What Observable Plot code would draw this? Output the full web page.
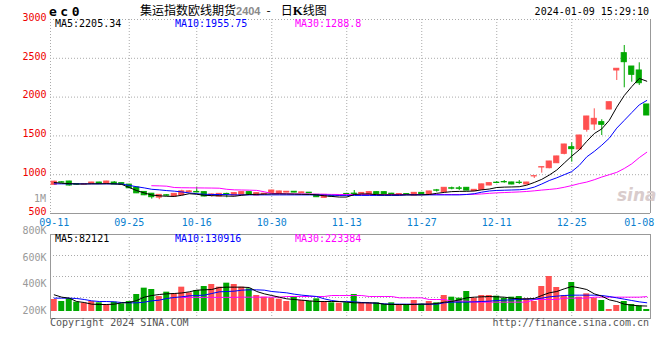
<!DOCTYPE html>
<html><head><meta charset="utf-8">
<script src="https://cdn.jsdelivr.net/npm/d3@7"></script>
<script src="https://cdn.jsdelivr.net/npm/@observablehq/plot@0.6"></script>
<style>
html,body{margin:0;padding:0;background:#fff;overflow:hidden}
#wrap{position:relative;width:660px;height:360px;overflow:hidden;background:#fff;font-family:"DejaVu Sans Mono",monospace;font-size:10px;}
#wrap svg{position:absolute;left:0;top:0;}
.t{position:absolute;line-height:1;white-space:nowrap}
</style></head><body><div id="wrap"></div>
<script>
// ---------- data ----------
const tickIdx = [0, 10, 19, 29, 39, 49, 59, 69, 78];
const tickLabels = ["09-11", "09-25", "10-16", "10-30", "11-13", "11-27", "12-11", "12-25", "01-08"];
const priceTicks = [3000, 2500, 2000, 1500, 1000, 500];
const volTickValues = [800000, 600000, 400000, 200000];
const volTickLabels = ["800K", "600K", "400K", "200K"];

const open = [870,902,912,878,873,882,899,882,899,891,
 872,835,778,755,705,735,719,735,775,778,
 775,735,719,752,732,740,775,732,745,766,
 753,770,780,765,768,740,702,722,725,752,
 756,755,740,775,775,755,745,750,732,766,
 740,798,775,825,824,831,788,805,861,897,
 906,900,897,874,978,1093,1084,1148,1269,1354,
 1325,1579,1647,1677,1840,2343,2566,2394,2343,1905];
const close = [910,898,861,872,877,899,882,912,874,874,
 825,760,735,710,740,730,753,785,785,772,
 719,745,753,748,762,775,745,762,755,796,
 784,780,770,772,760,710,740,718,732,748,
 750,765,775,740,745,750,750,745,766,740,
 784,794,831,820,818,796,805,875,891,893,
 902,874,893,899,981,1097,1170,1235,1389,1329,
 1505,1750,1720,1643,1934,2365,2450,2287,2179,1763];
const high = [915,912,915,880,880,902,902,915,912,893,
 875,838,782,758,742,745,756,800,795,840,
 778,753,756,762,765,778,778,765,758,799,
 787,783,783,775,770,743,742,725,735,760,
 796,768,778,778,778,760,753,753,769,769,
 787,810,834,840,848,834,808,878,894,910,
 925,903,925,902,981,1097,1172,1238,1392,1411,
 1508,1752,1849,1708,1936,2365,2665,2394,2442,1905];
const low = [865,891,853,865,870,879,879,879,871,871,
 822,757,730,685,678,720,715,730,765,765,
 715,710,716,702,729,737,742,729,742,763,
 750,767,767,762,757,707,699,715,722,745,
 748,752,737,737,742,745,742,742,729,737,
 737,775,772,805,796,793,785,800,858,885,
 890,870,874,870,951,1020,1076,1145,1256,1161,
 1312,1548,1570,1505,1838,2214,2120,2192,2150,1763];
const volume = [180000,150000,190000,140000,125000,150000,130000,100000,140000,115000,
 150000,255000,350000,330000,225000,290000,265000,365000,280000,315000,
 375000,405000,365000,425000,405000,365000,340000,240000,215000,200000,
 185000,150000,215000,165000,150000,190000,150000,130000,125000,130000,
 255000,130000,125000,130000,105000,130000,105000,105000,165000,110000,
 150000,130000,240000,215000,200000,300000,200000,240000,240000,230000,
 200000,215000,225000,190000,150000,375000,525000,360000,240000,435000,
 215000,265000,200000,165000,30000,90000,150000,105000,85000,30000];

const ma5 = [900,890,885,880,880,882,882,884,882,875,
 835,795,765,738,728,722,720,735,755,748,
 735,730,728,725,722,735,745,747,750,752,
 753,752,750,748,746,740,728,720,712,712,
 745,752,752,742,740,740,740,740,740,740,
 745,760,772,782,785,786,790,805,815,835,
 840,842,845,865,900,940,995,1060,1150,1240,
 1320,1430,1530,1590,1700,1870,2020,2135,2240,2205];
const ma10 = [882,882,882,882,882,882,882,882,882,880,
 862,845,830,812,805,795,788,778,765,755,
 748,745,745,744,740,740,740,740,740,740,
 740,740,740,740,740,740,738,735,733,733,
 733,733,733,733,733,733,733,740,740,740,
 740,740,740,740,740,745,755,775,790,797,
 800,803,806,815,840,880,925,960,1000,1040,
 1120,1230,1300,1380,1470,1600,1700,1800,1900,1956];
const ma30 = [null,null,null,null,null,null,null,null,null,null,
 null,null,null,858,856,852,835,832,831,830,
 829,828,826,812,805,803,801,798,780,758,
 755,754,753,752,751,750,748,746,745,745,
 745,745,745,745,745,745,745,745,745,745,
 745,745,745,745,745,746,748,752,760,766,
 770,774,778,784,792,802,810,820,838,860,
 885,905,935,970,1000,1030,1080,1140,1220,1289];
const vma5 = [250000,215000,200000,150000,135000,110000,105000,105000,110000,130000,
 135000,165000,215000,240000,255000,265000,270000,278000,295000,320000,
 325000,330000,360000,365000,365000,365000,360000,300000,265000,240000,
 215000,190000,180000,170000,160000,150000,150000,150000,150000,140000,
 130000,130000,130000,125000,110000,105000,105000,105000,105000,110000,
 110000,120000,140000,150000,175000,205000,215000,220000,225000,220000,
 215000,200000,190000,190000,195000,240000,280000,300000,340000,375000,
 355000,330000,265000,230000,175000,150000,110000,95000,85000,82000];
const vma10 = [200000,200000,200000,195000,180000,160000,150000,150000,145000,135000,
 130000,130000,140000,160000,170000,195000,210000,220000,235000,240000,
 245000,270000,295000,300000,305000,320000,325000,325000,320000,300000,
 290000,280000,260000,245000,235000,225000,190000,165000,150000,148000,
 145000,135000,130000,125000,115000,110000,110000,110000,110000,110000,
 110000,110000,130000,140000,140000,140000,145000,150000,155000,165000,
 170000,175000,180000,185000,185000,200000,220000,230000,240000,245000,
 245000,245000,245000,240000,225000,205000,185000,165000,145000,131000];
const vma30 = [null,null,null,null,null,null,null,null,null,null,
 null,null,null,null,null,null,null,210000,212000,212000,
 212000,212000,212000,212000,212000,215000,215000,215000,215000,215000,
 215000,225000,225000,225000,225000,225000,225000,240000,240000,240000,
 240000,240000,225000,225000,225000,225000,205000,205000,205000,205000,
 180000,180000,180000,155000,155000,155000,140000,140000,140000,140000,
 140000,140000,140000,140000,180000,180000,180000,180000,200000,200000,
 200000,200000,215000,215000,215000,215000,215000,215000,215000,223000];

// ---------- styling ----------
const RED = "#ff5050", GREEN = "#00a800";
const FONT = '"DejaVu Sans Mono", monospace';
const xDomain = [-0.5, 79.5];
const dotted = {stroke: "#aaa", strokeDasharray: "1,2", strokeWidth: 1};
const baseStyle = {background: "transparent", fontFamily: FONT, fontSize: "10px"};

const candles = open.map((o, i) => ({
  i, o, c: close[i], h: high[i], l: low[i],
  col: close[i] > o ? RED : GREEN
}));
const vols = volume.map((v, i) => ({i, v, col: candles[i].col}));
const series = arr => arr.map((v, i) => ({i, v})).filter(d => d.v != null);

const wrap = document.getElementById("wrap");

// ---------- price panel ----------
const price = Plot.plot({
  width: 660, height: 360,
  marginLeft: 50, marginRight: 10, marginTop: 19, marginBottom: 147,
  x: {domain: xDomain, axis: null, label: null},
  y: {domain: [500, 3000], axis: null, label: null},
  color: {type: "identity"},
  style: baseStyle,
  marks: [
    Plot.ruleY(priceTicks.slice(0, -1), dotted),
    Plot.ruleX(tickIdx.slice(1, -1), dotted),
    Plot.ruleX([xDomain[0]], dotted),
    Plot.ruleX([xDomain[1]], {stroke: "#999"}),
    Plot.ruleY([priceTicks[priceTicks.length - 1]], {stroke: "#999"}),
    Plot.ruleX(candles, {x: "i", y1: "l", y2: "h", stroke: "col", strokeWidth: 1}),
    Plot.rect(candles, {
      x1: d => d.i - 0.34, x2: d => d.i + 0.34,
      y1: d => Math.min(d.o, d.c), y2: d => Math.max(d.o, d.c),
      fill: "col", stroke: "col", strokeWidth: 1
    }),
    Plot.line(series(ma30), {x: "i", y: "v", stroke: "#ff00ff", strokeWidth: 1}),
    Plot.line(series(ma10), {x: "i", y: "v", stroke: "#0000ff", strokeWidth: 1}),
    Plot.line(series(ma5), {x: "i", y: "v", stroke: "#000", strokeWidth: 1}),
    Plot.axisY(priceTicks, {anchor: "left", tickSize: 0, tickPadding: 4, dy: -2, label: null,
      tickFormat: d => String(d), fill: "#ee0000", fontSize: 10}),
    Plot.axisX(tickIdx, {anchor: "bottom", tickSize: 0, tickPadding: 5, label: null,
      tickFormat: d => tickLabels[tickIdx.indexOf(d)], fill: "#0a7fcf", fontSize: 10})
  ]
});
wrap.appendChild(price);

// ---------- volume panel ----------
const vDomain = [-105000, 1155000];
const vGrid = [1, 2, 3].map(k => vDomain[0] + k * (vDomain[1] - vDomain[0]) / 4);
const vol = Plot.plot({
  width: 660, height: 360,
  marginLeft: 50, marginRight: 10, marginTop: 234, marginBottom: 42,
  x: {domain: xDomain, axis: null, label: null},
  y: {domain: vDomain, axis: null, label: null},
  color: {type: "identity"},
  style: baseStyle,
  marks: [
    Plot.ruleY(vGrid, dotted),
    Plot.ruleX(tickIdx.slice(1, -1), dotted),
    Plot.rect(vols, {x1: d => d.i - 0.4, x2: d => d.i + 0.4, y1: 0, y2: "v", fill: "col"}),
    Plot.line(series(vma30), {x: "i", y: "v", stroke: "#ff00ff", strokeWidth: 1}),
    Plot.line(series(vma10), {x: "i", y: "v", stroke: "#0000ff", strokeWidth: 1}),
    Plot.line(series(vma5), {x: "i", y: "v", stroke: "#000", strokeWidth: 1}),
    Plot.frame({stroke: "#999"})
  ]
});
wrap.appendChild(vol);

// ---------- volume tick labels ----------
const volAxis = Plot.plot({
  width: 660, height: 360,
  marginLeft: 50, marginRight: 10, marginTop: 230.5, marginBottom: 50,
  x: {domain: xDomain, axis: null, label: null},
  y: {domain: [200000, 800000], axis: null, label: null},
  style: baseStyle,
  marks: [
    Plot.axisY(volTickValues, {anchor: "left", tickSize: 0, tickPadding: 4, label: null,
      tickFormat: d => volTickLabels[volTickValues.indexOf(d)], fill: "#999", fontSize: 10})
  ]
});
wrap.appendChild(volAxis);

// ---------- texts ----------
function addText(txt, css, html) {
  const d = document.createElement("div");
  d.className = "t";
  if (html) d.innerHTML = txt; else d.textContent = txt;
  Object.assign(d.style, css);
  wrap.appendChild(d);
  return d;
}
addText("ec0", {left: "49px", top: "5px", fontSize: "13px", fontWeight: "bold", letterSpacing: "3.5px", color: "#000"});
addText('<span>集运指数欧线期货</span><span style="font-family:\'Liberation Sans\',Arial;font-weight:bold;font-size:11px;color:#8a8a8a">2404</span><span style="margin:0 10px 0 6px">-</span><span>日<b style="font-family:\'Liberation Serif\',serif;font-size:13px">K</b>线图</span>',
  {left: "140px", top: "3.5px", fontSize: "12px", fontFamily: '"Noto Sans CJK SC", sans-serif', color: "#000"}, true);
addText("2024-01-09 15:29:10", {right: "11px", top: "7px", color: "#000"});
addText("MA5:2205.34", {left: "55px", top: "19px", color: "#000"});
addText("MA10:1955.75", {left: "175px", top: "19px", color: "#0000ff"});
addText("MA30:1288.8", {left: "295px", top: "19px", color: "#ff00ff"});
addText("1M", {right: "614px", top: "194px", color: "#999"});
addText("MA5:82121", {left: "55px", top: "233.5px", color: "#000"});
addText("MA10:130916", {left: "175px", top: "233.5px", color: "#0000ff"});
addText("MA30:223384", {left: "295px", top: "233.5px", color: "#ff00ff"});
addText("Copyright 2024 SINA.COM", {left: "50px", top: "317.5px", color: "#555"});
addText("http://finance.sina.com.cn", {right: "11px", top: "317.5px", color: "#555"});
addText("sina", {left: "617px", top: "187px", fontSize: "17px", fontStyle: "italic", fontWeight: "bold", fontFamily: '"DejaVu Sans", sans-serif', color: "#d9cccc"});
</script></body></html>
